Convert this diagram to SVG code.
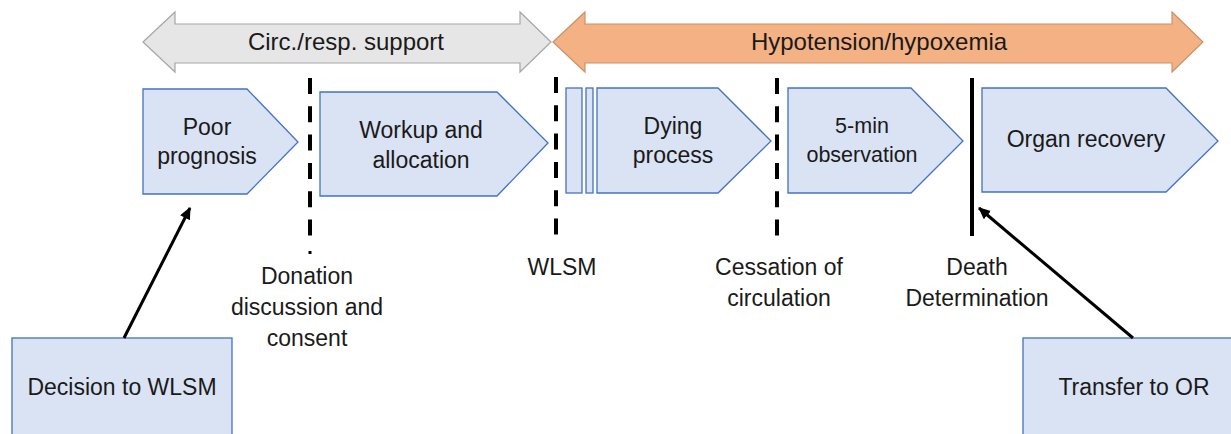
<svg xmlns="http://www.w3.org/2000/svg" width="1231" height="434" viewBox="0 0 1231 434">
<style>
.node{fill:#dae3f3;stroke:#4472c4;stroke-width:1.3}
.t{font-family:"Liberation Sans",Arial,sans-serif;font-size:23px;fill:#1a1a1a;text-anchor:middle}
.ts{font-size:21.5px}
.tb{font-size:24px}
.dash{stroke:#000;stroke-width:4;stroke-dasharray:16 12.3;fill:none}
.conn{stroke:#000;stroke-width:3;fill:none}
</style>
<defs>
<marker id="ah" markerUnits="userSpaceOnUse" markerWidth="14" markerHeight="12" refX="11" refY="5.5" orient="auto">
<path d="M0,0 L12,5.5 L0,11 z" fill="#000"/>
</marker>
</defs>
<g id="banner-support">
<polygon points="143,42 175,12 175,24 520,24 520,12 551,42 520,72 520,63 175,63 175,72" fill="#e7e6e6" stroke="#a6a6a6" stroke-width="1.2"/>
<text class="t tb" x="346" y="50">Circ./resp. support</text>
</g>
<g id="banner-hypo">
<polygon points="553,42 585,12 585,24 1172,24 1172,12 1203,42 1172,72 1172,63 585,63 585,72" fill="#f4b183" stroke="#c8936a" stroke-width="1.2"/>
<text class="t tb" x="879" y="50">Hypotension/hypoxemia</text>
</g>
<g id="poor-prognosis">
<polygon class="node" points="143,89 247,89 298,142 247,194 143,194"/>
<text class="t" x="207" y="135">Poor</text>
<text class="t" x="207" y="164">prognosis</text>
</g>
<g id="workup">
<polygon class="node" points="320,92 497,92 548,143 497,196 320,196"/>
<text class="t" x="421" y="138">Workup and</text>
<text class="t" x="421" y="168">allocation</text>
</g>
<g id="dying-process">
<rect class="node" x="566" y="88" width="16" height="105"/>
<rect class="node" x="586" y="88" width="7" height="105"/>
<polygon class="node" points="597,88 718,88 771,141 718,193 597,193"/>
<text class="t" x="673" y="134">Dying</text>
<text class="t" x="673" y="163">process</text>
</g>
<g id="observation">
<polygon class="node" points="788,88 911,88 963,141 911,193 788,193"/>
<text class="t ts" x="862" y="133">5-min</text>
<text class="t ts" x="862" y="162">observation</text>
</g>
<g id="organ-recovery">
<polygon class="node" points="982,88 1166,88 1218,141 1166,192 982,192"/>
<text class="t" x="1086" y="147">Organ recovery</text>
</g>
<g id="decision">
<rect class="node" x="12" y="338" width="220" height="110"/>
<text class="t" x="122" y="395">Decision to WLSM</text>
</g>
<g id="transfer">
<rect class="node" x="1023" y="338" width="220" height="110"/>
<text class="t" x="1134" y="395">Transfer to OR</text>
</g>
<g id="milestones">
<line class="dash" x1="310" y1="78" x2="310" y2="237"/>
<line x1="310" y1="251" x2="310" y2="254" stroke="#000" stroke-width="3"/>
<text class="t" x="307" y="284">Donation</text>
<text class="t" x="307" y="315">discussion and</text>
<text class="t" x="307" y="346">consent</text>
<line class="dash" x1="556" y1="77" x2="556" y2="241"/>
<text class="t" x="562" y="275">WLSM</text>
<line class="dash" x1="777" y1="78" x2="777" y2="241"/>
<text class="t" x="779" y="275">Cessation of</text>
<text class="t" x="779" y="306">circulation</text>
<line x1="972" y1="78" x2="972" y2="236" stroke="#000" stroke-width="4"/>
<text class="t" x="977" y="275">Death</text>
<text class="t" x="977" y="306">Determination</text>
</g>
<g id="connectors">
<line class="conn" x1="124" y1="338" x2="190" y2="208" marker-end="url(#ah)"/>
<line class="conn" x1="1133" y1="338" x2="979" y2="208" marker-end="url(#ah)"/>
</g>
</svg>
